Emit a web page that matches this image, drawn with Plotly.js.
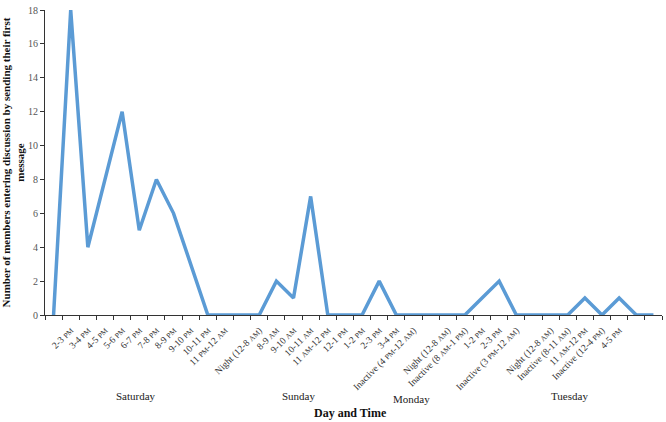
<!DOCTYPE html>
<html>
<head>
<meta charset="utf-8">
<script src="https://cdn.plot.ly/plotly-3.0.1.min.js"></script>
<style>
  html, body { margin: 0; padding: 0; background: #fff; }
  #chart { width: 666px; height: 422px; }
</style>
</head>
<body>
<div id="chart"></div>
<script>
// time slots (AM/PM written smaller, like the small caps in the original)
var slots = ['',
  '2-3 PM', '3-4 PM', '4-5 PM', '5-6 PM', '6-7 PM', '7-8 PM', '8-9 PM', '9-10 PM', '10-11 PM', '11 PM-12 AM',
  '', 'Night (12-8 AM)', '8-9 AM', '9-10 AM', '10-11 AM', '11 AM-12 PM', '12-1 PM', '1-2 PM', '2-3 PM', '3-4 PM',
  'Inactive (4 PM-12 AM)', '', 'Night (12-8 AM)', 'Inactive (8 AM-1 PM)', '1-2 PM', '2-3 PM', 'Inactive (3 PM-12 AM)',
  '', 'Night (12-8 AM)', 'Inactive (8-11 AM)', '11 AM-12 PM', 'Inactive (12-4 PM)', '4-5 PM', '', ''];

var members = [0,
  18, 4, 8, 12, 5, 8, 6, 3, 0, 0,
  0, 0, 2, 1, 7, 0, 0, 0, 2, 0,
  0, 0, 0, 0, 1, 2, 0,
  0, 0, 0, 1, 0, 1, 0, 0];

var days = ['Saturday', 'Sunday', 'Monday', 'Tuesday'];
var dayPos = [4.8, 14.3, 20.9, 30.1];
var dayY = [-0.266, -0.266, -0.276, -0.265];

var idx = slots.map(function (s, i) { return i; });
var edges = [];
for (var k = 0; k <= slots.length; k++) edges.push(k - 0.5);
var tickText = slots.map(function (s) {
  return s.replace(/(AM|PM)/g, '<span style="font-size:7.5px">$1</span>');
});

var trace = {
  x: idx,
  y: members,
  type: 'scatter',
  mode: 'lines',
  line: { color: '#5B9BD5', width: 3.5 },
  hoverinfo: 'y'
};

var annotations = days.map(function (d, i) {
  return {
    text: d, x: dayPos[i], y: dayY[i], xref: 'x', yref: 'paper',
    showarrow: false, xanchor: 'center', yanchor: 'middle',
    font: { family: 'Liberation Serif, Times New Roman, serif', size: 11, color: '#222' }
  };
});
// x axis title, kept below the day names
annotations.push({
  text: 'Day and Time', x: 0.495, y: -0.321, xref: 'paper', yref: 'paper',
  showarrow: false, xanchor: 'center', yanchor: 'middle',
  font: { family: 'Liberation Serif, Times New Roman, serif', size: 12, weight: 'bold', color: '#111' }
});

var layout = {
  width: 666,
  height: 422,
  margin: { l: 43, r: 4, t: 7, b: 107 },
  paper_bgcolor: '#fff',
  plot_bgcolor: '#fff',
  showlegend: false,
  font: { family: 'Liberation Serif, Times New Roman, serif', color: '#333' },
  xaxis: {
    range: [-0.5, 35.5],
    tickmode: 'array',
    tickvals: idx,
    ticktext: tickText,
    tickangle: -45,
    ticks: '',
    ticklabelstandoff: 5,
    tickfont: { size: 9.5, color: '#333' },
    showline: true,
    linecolor: '#333',
    linewidth: 1,
    showgrid: false,
    zeroline: false,
    automargin: false
  },
  // tick marks between the time slots
  xaxis2: {
    overlaying: 'x',
    anchor: 'y',
    side: 'bottom',
    range: [-0.5, 35.5],
    tickmode: 'array',
    tickvals: edges,
    ticks: 'outside',
    ticklen: 4,
    tickcolor: '#333',
    showticklabels: false,
    showline: false,
    showgrid: false,
    zeroline: false
  },
  yaxis: {
    range: [0, 18],
    dtick: 2,
    ticks: 'outside',
    ticklen: 4,
    tickcolor: '#333',
    tickfont: { size: 10, color: '#555' },
    showline: true,
    linecolor: '#333',
    linewidth: 1,
    showgrid: false,
    zeroline: false,
    automargin: true,
    title: {
      text: 'Number of members entering discussion by sending their first<br>message',
      standoff: 2,
      font: { size: 11, weight: 'bold', color: '#111' }
    }
  },
  annotations: annotations
};

var edgeTrace = { x: [edges[0], edges[edges.length - 1]], y: [0, 0], xaxis: 'x2', yaxis: 'y',
  type: 'scatter', mode: 'lines', line: { width: 0 }, hoverinfo: 'skip' };

Plotly.newPlot('chart', [edgeTrace, trace], layout, { displayModeBar: false, staticPlot: true });
</script>
</body>
</html>
